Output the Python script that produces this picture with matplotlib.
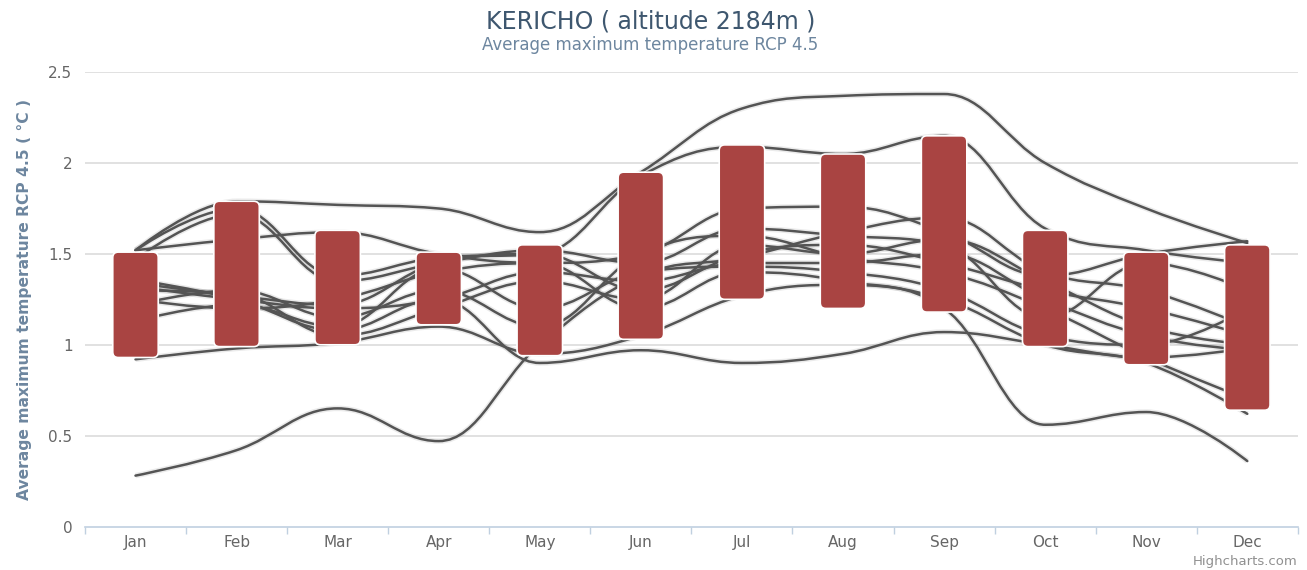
import numpy as np
import matplotlib.pyplot as plt
from matplotlib.path import Path
from matplotlib.patches import PathPatch, FancyBboxPatch

months = ["Jan", "Feb", "Mar", "Apr", "May", "Jun",
          "Jul", "Aug", "Sep", "Oct", "Nov", "Dec"]

# column range (low / high) per month
range_low = [0.93, 0.99, 1.00, 1.11, 0.94, 1.03, 1.25, 1.20, 1.18, 0.99, 0.89, 0.64]
range_high = [1.51, 1.79, 1.63, 1.51, 1.55, 1.95, 2.10, 2.05, 2.15, 1.63, 1.51, 1.55]

# individual model runs (spline lines)
model_01 = [1.52, 1.79, 1.77, 1.75, 1.62, 1.95, 2.30, 2.37, 2.38, 2.00, 1.75, 1.56]
model_02 = [1.52, 1.75, 1.38, 1.48, 1.50, 1.93, 2.09, 2.05, 2.15, 1.64, 1.52, 1.45]
model_03 = [1.52, 1.58, 1.62, 1.50, 1.45, 1.50, 1.75, 1.76, 1.62, 1.38, 1.50, 1.57]
model_04 = [1.47, 1.72, 1.35, 1.45, 1.52, 1.45, 1.64, 1.60, 1.55, 1.15, 1.45, 1.30]
model_05 = [1.34, 1.27, 1.22, 1.45, 1.50, 1.30, 1.50, 1.55, 1.45, 1.30, 1.20, 1.05]
model_06 = [1.32, 1.25, 1.20, 1.25, 1.40, 1.35, 1.45, 1.45, 1.50, 1.25, 1.05, 0.97]
model_07 = [1.30, 1.28, 1.05, 1.20, 1.35, 1.25, 1.55, 1.50, 1.58, 1.35, 1.10, 1.00]
model_08 = [1.22, 1.30, 1.15, 1.30, 1.10, 1.50, 1.60, 1.48, 1.40, 1.20, 0.93, 0.70]
model_09 = [1.13, 1.22, 1.10, 1.42, 1.20, 1.40, 1.43, 1.40, 1.30, 1.05, 1.00, 1.20]
model_10 = [0.92, 0.98, 1.01, 1.10, 0.95, 1.05, 1.27, 1.33, 1.25, 1.00, 0.90, 0.62]
model_11 = [0.28, 0.42, 0.65, 0.47, 1.00, 1.38, 1.48, 1.62, 1.70, 1.40, 1.30, 1.10]
model_12 = [1.36, 1.25, 1.08, 1.25, 0.90, 0.97, 0.90, 0.95, 1.07, 1.00, 0.93, 0.98]
model_13 = [1.25, 1.20, 1.25, 1.40, 1.45, 1.20, 1.40, 1.35, 1.20, 0.56, 0.63, 0.36]

models = [model_01, model_02, model_03, model_04, model_05, model_06, model_07,
          model_08, model_09, model_10, model_11, model_12, model_13]


def spline_path(xs, ys, smoothing=1.5):
    """Highcharts-like spline as a cubic bezier path."""
    denom = smoothing + 1
    n = len(xs)
    left = [(xs[i], ys[i]) for i in range(n)]
    right = [(xs[i], ys[i]) for i in range(n)]
    for i in range(1, n - 1):
        x, y = xs[i], ys[i]
        lx, ly = xs[i - 1], ys[i - 1]
        nx, ny = xs[i + 1], ys[i + 1]
        lcx = (smoothing * x + lx) / denom
        lcy = (smoothing * y + ly) / denom
        rcx = (smoothing * x + nx) / denom
        rcy = (smoothing * y + ny) / denom
        corr = ((rcy - lcy) * (rcx - x)) / (rcx - lcx) + y - rcy
        lcy += corr
        rcy += corr
        # avoid overshooting the neighbouring points
        if lcy > ly and lcy > y:
            lcy = max(ly, y)
            rcy = 2 * y - lcy
        elif lcy < ly and lcy < y:
            lcy = min(ly, y)
            rcy = 2 * y - lcy
        if rcy > ny and rcy > y:
            rcy = max(ny, y)
            lcy = 2 * y - rcy
        elif rcy < ny and rcy < y:
            rcy = min(ny, y)
            lcy = 2 * y - rcy
        left[i] = (lcx, lcy)
        right[i] = (rcx, rcy)
    verts = [(xs[0], ys[0])]
    codes = [Path.MOVETO]
    for i in range(1, n):
        verts += [right[i - 1], left[i], (xs[i], ys[i])]
        codes += [Path.CURVE4] * 3
    return Path(verts, codes)


fig = plt.figure(figsize=(13.07, 5.70), dpi=100)
ax = fig.add_axes([0.065, 0.0763, 0.928, 0.797])

x = np.arange(len(months))
ax.set_xlim(-0.5, len(months) - 0.5)
ax.set_ylim(0, 2.5)

# grid
for yv in np.arange(0.5, 2.51, 0.5):
    ax.axhline(yv, color="#d8d8d8", lw=1.1, zorder=0)

# model lines (with a soft shadow like highcharts)
for m in models:
    p = spline_path(x, m)
    ax.add_patch(PathPatch(p, fill=False, edgecolor="#000000", lw=4.0,
                           alpha=0.08, zorder=1))
    ax.add_patch(PathPatch(p, fill=False, edgecolor="#545454", lw=1.8,
                           zorder=2, capstyle="round"))

# rounded column ranges
bar_w = 0.45
aspect = (1 / 181.6) / (1 / 101.1)
for xi, lo, hi in zip(x, range_low, range_high):
    box = FancyBboxPatch((xi - bar_w / 2, lo), bar_w, hi - lo,
                         boxstyle="round,pad=0,rounding_size=0.055",
                         mutation_aspect=aspect,
                         facecolor="#a94442", edgecolor="white", lw=1.2,
                         zorder=3)
    ax.add_patch(box)

# axes styling
for s in ["top", "right", "left"]:
    ax.spines[s].set_visible(False)
ax.spines["bottom"].set_color("#c0d0e0")
ax.spines["bottom"].set_linewidth(1.2)
ax.spines["bottom"].set_zorder(4)

ax.set_xticks(x)
ax.set_xticklabels(months)
ax.set_xticks(np.arange(-0.5, len(months)), minor=True)
ax.tick_params(axis="x", which="major", length=0, pad=6,
               labelsize=11, labelcolor="#666666")
ax.tick_params(axis="x", which="minor", length=5, color="#c0d0e0", width=1)

ax.set_yticks([0, 0.5, 1, 1.5, 2, 2.5])
ax.set_yticklabels(["0", "0.5", "1", "1.5", "2", "2.5"])
ax.tick_params(axis="y", length=0, pad=9, labelsize=11, labelcolor="#666666")

ax.set_ylabel("Average maximum temperature RCP 4.5 ( °C )", fontsize=11.2,
              color="#6d869f", fontweight="bold", labelpad=12)

fig.text(0.4975, 0.963, "KERICHO ( altitude 2184m )", ha="center", va="center",
         fontsize=17, color="#3e576f")
fig.text(0.4975, 0.921, "Average maximum temperature RCP 4.5", ha="center",
         va="center", fontsize=12, color="#6d869f")
fig.text(0.993, 0.004, "Highcharts.com", ha="right", va="bottom",
         fontsize=9.5, color="#909090")

fig.savefig("out.png", dpi=100)
